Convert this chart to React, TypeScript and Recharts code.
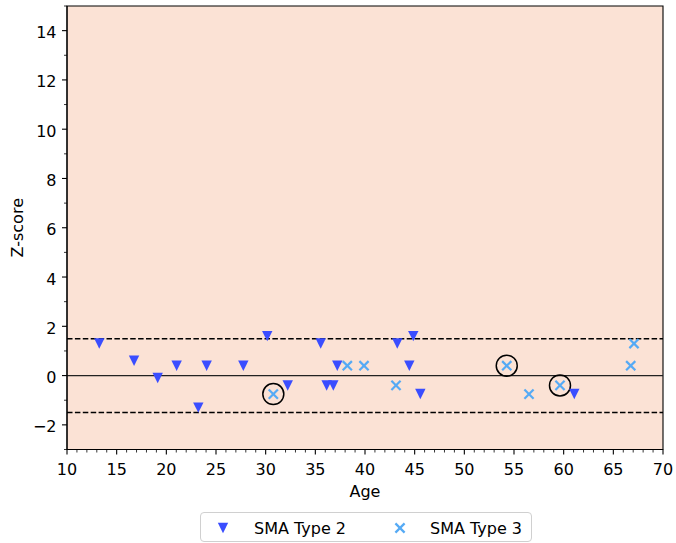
import { ScatterChart, Scatter, XAxis, YAxis, ReferenceLine, ReferenceArea } from "recharts"

// ages (x) and z-scores (y)
const type2Age = [13.25, 16.75, 19.13, 21.04, 23.22, 24.06, 27.75, 30.16, 32.22, 35.54, 36.14, 36.81, 37.21, 43.25, 44.46, 44.86, 45.57, 61.07]
const type2Z = [1.3, 0.6, -0.1, 0.4, -1.3, 0.4, 0.4, 1.6, -0.4, 1.3, -0.4, -0.4, 0.4, 1.3, 0.4, 1.6, -0.75, -0.75]

const type3Age = [30.77, 38.22, 39.9, 43.12, 54.27, 56.51, 59.63, 66.75, 67.08]
const type3Z = [-0.75, 0.4, 0.4, -0.4, 0.4, -0.75, -0.4, 0.4, 1.3]

// circled points
const circledAge = [30.77, 54.27, 59.63]
const circledZ = [-0.75, 0.4, -0.4]

const xTicks = Array.from({ length: 61 }, (_, i) => 10 + i)
const yTicks = Array.from({ length: 19 }, (_, i) => -3 + i)
const thresholds = [1.5, -1.5]

const FONT = "'DejaVu Sans', sans-serif"
const TRI_COLOR = "#3a4dff"
const X_COLOR = "#55aaf5"
const BG = "#fbe2d5"

const toPoints = (xs: number[], ys: number[]) => xs.map((x, i) => ({ age: x, z: ys[i] }))

const type2Data = toPoints(type2Age, type2Z)
const type3Data = toPoints(type3Age, type3Z)
const circledData = toPoints(circledAge, circledZ)

const fmt = (v: number) => (v < 0 ? "\u2212" + Math.abs(v) : String(v))

function Triangle(props: any) {
  const { cx, cy } = props
  const r = 5.2
  return <polygon points={`${cx - r},${cy - r} ${cx + r},${cy - r} ${cx},${cy + r}`} fill={TRI_COLOR} />
}

function Cross(props: any) {
  const { cx, cy } = props
  const r = 4.6
  return (
    <g stroke={X_COLOR} strokeWidth={2.2}>
      <line x1={cx - r} y1={cy - r} x2={cx + r} y2={cy + r} />
      <line x1={cx - r} y1={cy + r} x2={cx + r} y2={cy - r} />
    </g>
  )
}

function Ring(props: any) {
  const { cx, cy } = props
  return <circle cx={cx} cy={cy} r={10.5} fill="none" stroke="#000" strokeWidth={1.5} />
}

function XTick(props: any) {
  const { x, y, payload } = props
  const v = payload.value
  const major = v % 5 === 0
  return (
    <g>
      <line x1={x} x2={x} y1={y} y2={y + (major ? 5 : 3)} stroke="#000" strokeWidth={major ? 1.1 : 0.8} />
      {major && (
        <text x={x} y={y + 25.5} textAnchor="middle" fontSize={16} fontFamily={FONT} fill="#000">
          {v}
        </text>
      )}
    </g>
  )
}

function YTick(props: any) {
  const { x, y, payload } = props
  const v = payload.value
  const major = v % 2 === 0
  return (
    <g>
      <line x1={x - (major ? 5 : 3)} x2={x} y1={y} y2={y} stroke="#000" strokeWidth={major ? 1.1 : 0.8} />
      {major && (
        <text x={x - 10.5} y={y + 7.5} textAnchor="end" fontSize={16} fontFamily={FONT} fill="#000">
          {fmt(v)}
        </text>
      )}
    </g>
  )
}

export default function App() {
  return (
    <div style={{ position: "absolute", left: 0, top: 0, width: 676, height: 543, background: "#fff", fontFamily: FONT }}>
      <ScatterChart width={676} height={543} margin={{ top: 6, right: 13, left: 0, bottom: 0 }}>
        <ReferenceArea x1={10} x2={70} y1={-3} y2={15} fill={BG} fillOpacity={1} stroke="#000" strokeWidth={1.1} />
        <XAxis
          type="number"
          dataKey="age"
          domain={[10, 70]}
          ticks={xTicks}
          interval={0}
          tickLine={false}
          tickSize={0}
          tickMargin={0}
          tick={<XTick />}
          axisLine={{ stroke: "#000", strokeWidth: 1.1 }}
          height={93.5}
          label={(p: any) => (
            <text x={p.viewBox.x + p.viewBox.width / 2} y={p.viewBox.y + 47.5} textAnchor="middle" fontSize={16} fontFamily={FONT} fill="#000">
              Age
            </text>
          )}
        />
        <YAxis
          type="number"
          dataKey="z"
          domain={[-3, 15]}
          ticks={yTicks}
          interval={0}
          tickLine={false}
          tickSize={0}
          tickMargin={0}
          tick={<YTick />}
          axisLine={{ stroke: "#000", strokeWidth: 1.1 }}
          width={67}
          label={(p: any) => {
            const cy = p.viewBox.y + p.viewBox.height / 2
            return (
              <text x={22.5} y={cy} transform={`rotate(-90, 22.5, ${cy})`} textAnchor="middle" fontSize={16} fontFamily={FONT} fill="#000">
                Z-score
              </text>
            )
          }}
        />
        <ReferenceLine y={0} stroke="#222" strokeWidth={1.2} />
        {thresholds.map((t) => (
          <ReferenceLine key={t} y={t} stroke="#000" strokeWidth={1.5} strokeDasharray="5.5 2.4" />
        ))}
        <Scatter name="circled" data={circledData} shape={<Ring />} isAnimationActive={false} />
        <Scatter name="SMA Type 2" data={type2Data} shape={<Triangle />} isAnimationActive={false} />
        <Scatter name="SMA Type 3" data={type3Data} shape={<Cross />} isAnimationActive={false} />
      </ScatterChart>
      <div
        style={{
          position: "absolute",
          left: 200,
          top: 512,
          width: 330,
          height: 28,
          border: "1px solid #d0d0d0",
          borderRadius: 4,
          background: "#fff",
          fontSize: 16,
          color: "#000",
        }}
      >
        <svg width={330} height={28} style={{ position: "absolute", left: 0, top: 0 }}>
          <Triangle cx={22} cy={15} />
          <Cross cx={199} cy={15} />
          <text x={53} y={20.5} fontSize={16} fontFamily={FONT} fill="#000">SMA Type 2</text>
          <text x={229} y={20.5} fontSize={16} fontFamily={FONT} fill="#000">SMA Type 3</text>
        </svg>
      </div>
    </div>
  )
}
